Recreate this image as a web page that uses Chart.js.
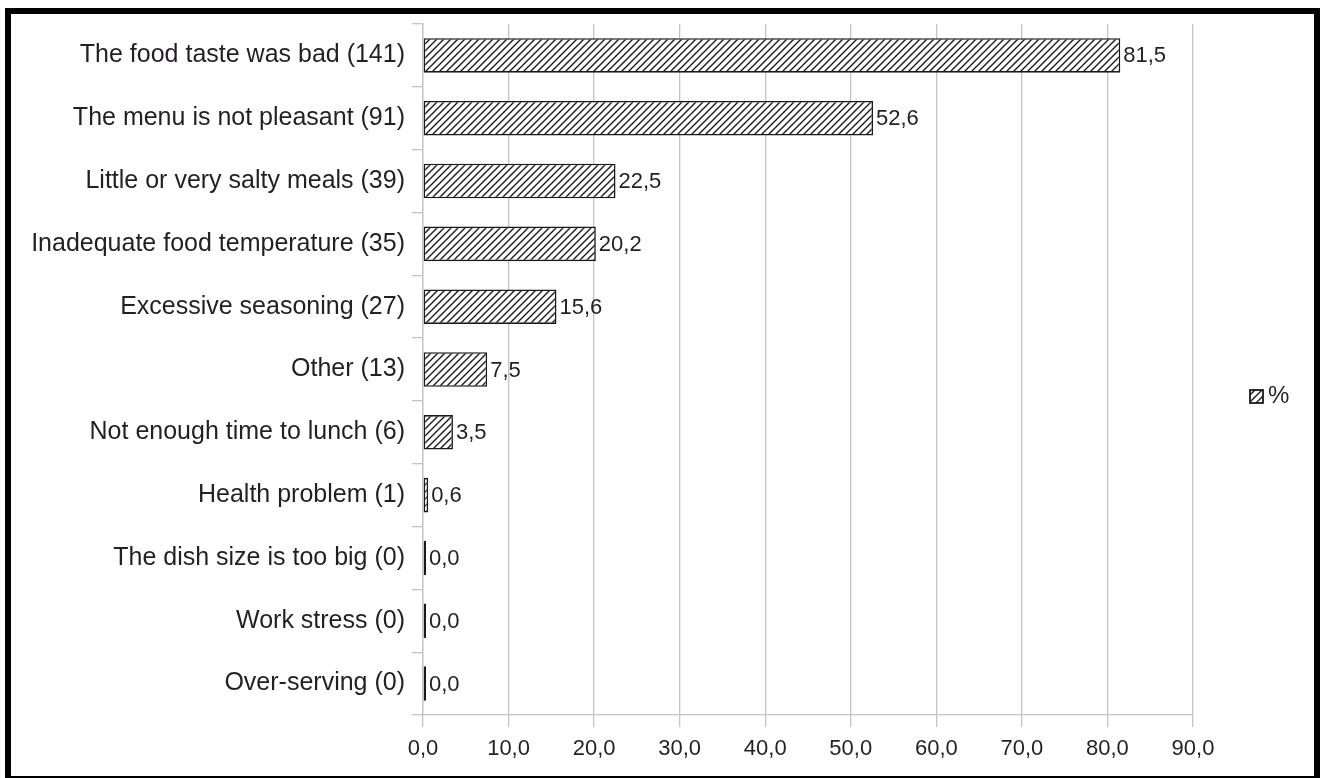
<!DOCTYPE html>
<html>
<head>
<meta charset="utf-8">
<script src="https://cdn.jsdelivr.net/npm/chart.js@4/dist/chart.umd.min.js"></script>
<style>
  html, body { margin: 0; padding: 0; background: #fff; }
  #wrap { position: relative; width: 1323px; height: 778px; overflow: hidden; }
  #c { position: absolute; left: 0; top: 0; }
  #frame {
    position: absolute; left: 5px; top: 8px; width: 1315px; height: 774px;
    box-sizing: border-box; border: 6px solid #000; pointer-events: none;
  }
</style>
</head>
<body>
<div id="wrap">
  <canvas id="c" width="1323" height="778"></canvas>
  <div id="frame"></div>
</div>
<script>
// Reasons for not liking the meals, share of respondents (%)
const categories = [
  'The food taste was bad (141)',
  'The menu is not pleasant (91)',
  'Little or very salty meals (39)',
  'Inadequate food temperature (35)',
  'Excessive seasoning (27)',
  'Other (13)',
  'Not enough time to lunch (6)',
  'Health problem (1)',
  'The dish size is too big (0)',
  'Work stress (0)',
  'Over-serving (0)'
];
const percentValues = [81.5, 52.6, 22.5, 20.2, 15.6, 7.5, 3.5, 0.6, 0.0, 0.0, 0.0];
const seriesName = '%';
const xTicks = [0, 10, 20, 30, 40, 50, 60, 70, 80, 90];

const FONT = 'Liberation Sans, Arial, sans-serif';
const TEXT = '#231f24';
const fmt = v => v.toFixed(1).replace('.', ',');

// diagonal hatch fill
function makeHatch() {
  const s = 7;
  const p = document.createElement('canvas');
  p.width = s; p.height = s;
  const g = p.getContext('2d');
  g.fillStyle = '#fff';
  g.fillRect(0, 0, s, s);
  g.strokeStyle = '#1a1a1a';
  g.lineWidth = 1.4;
  g.beginPath();
  g.moveTo(-1, s + 1); g.lineTo(s + 1, -1);
  g.moveTo(-1, 1); g.lineTo(1, -1);
  g.moveTo(s - 1, s + 1); g.lineTo(s + 1, s - 1);
  g.stroke();
  return g.canvas;
}
const ctx = document.getElementById('c').getContext('2d');
const hatch = ctx.createPattern(makeHatch(), 'repeat');

// value labels at the bar ends
const valueLabels = {
  id: 'valueLabels',
  afterDatasetsDraw(chart) {
    const c = chart.ctx;
    const meta = chart.getDatasetMeta(0);
    c.save();
    c.font = '22px ' + FONT;
    c.fillStyle = TEXT;
    c.textAlign = 'left';
    c.textBaseline = 'middle';
    meta.data.forEach((bar, i) => {
      c.fillText(fmt(percentValues[i]), bar.x + 3, bar.y + 1);
    });
    c.restore();
  }
};

// single-entry legend on the right
const sideLegend = {
  id: 'sideLegend',
  afterDraw(chart) {
    const c = chart.ctx;
    const x = chart.chartArea.right + 57;
    const y = 396;
    c.save();
    c.fillStyle = hatch;
    c.fillRect(x, y - 6, 13, 13);
    c.strokeStyle = '#1a1a1a';
    c.lineWidth = 1.8;
    c.strokeRect(x, y - 6, 13, 13);
    c.font = '24px ' + FONT;
    c.fillStyle = TEXT;
    c.textBaseline = 'middle';
    c.fillText(seriesName, x + 18, y);
    c.restore();
  }
};

new Chart(ctx, {
  type: 'bar',
  data: {
    labels: categories,
    datasets: [{
      label: seriesName,
      data: percentValues,
      backgroundColor: hatch,
      borderColor: '#1a1a1a',
      borderWidth: 1.6,
      borderSkipped: false,
      minBarLength: 3,
      barPercentage: 0.55,
      categoryPercentage: 1
    }]
  },
  options: {
    indexAxis: 'y',
    responsive: false,
    animation: false,
    layout: { padding: { left: 0, top: 24, right: 130, bottom: 0 } },
    plugins: { legend: { display: false }, tooltip: { enabled: false } },
    scales: {
      x: {
        min: 0, max: 90,
        afterBuildTicks(scale) { scale.ticks = xTicks.map(v => ({ value: v })); },
        afterFit(scale) { scale.height = 63; },
        grid: { color: '#c4c4c4', lineWidth: 1.3, tickLength: 12, drawTicks: true },
        border: { color: '#c4c4c4', width: 1.3 },
        ticks: {
          color: TEXT, padding: 9,
          font: { family: FONT, size: 22 },
          callback: v => fmt(v)
        }
      },
      y: {
        afterFit(scale) { scale.width = 423; },
        grid: { drawOnChartArea: false, color: '#c4c4c4', lineWidth: 1.3, tickLength: 11, offset: true },
        border: { color: '#c4c4c4', width: 1.3 },
        ticks: {
          color: TEXT, padding: 7,
          font: { family: FONT, size: 25 }
        }
      }
    }
  },
  plugins: [valueLabels, sideLegend]
});
</script>
</body>
</html>
